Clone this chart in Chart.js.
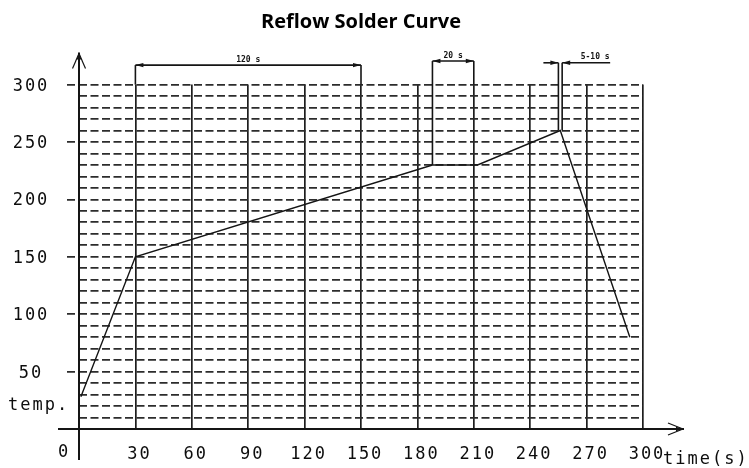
<!DOCTYPE html>
<html>
<head>
<meta charset="utf-8">
<title>Reflow Solder Curve</title>
<script src="https://cdn.jsdelivr.net/npm/chart.js@4.4.1/dist/chart.umd.min.js"></script>
<style>
    html, body { margin: 0; padding: 0; background: #fff; }
</style>
</head>
<body>
<canvas id="reflowChart" width="749" height="468"></canvas>
<script>
// Profile points (time in s, temperature)
const timeS = [1, 30, 188, 212, 256, 293];
const tempC = [28, 150, 230, 230, 260, 80];

// Axis tick labels
const timeTicks = [30, 60, 90, 120, 150, 180, 210, 240, 270, 300];
const tempTicks = [50, 100, 150, 200, 250, 300];

// Timing brackets drawn above the grid
const spanFrom = [30, 188, 255];
const spanTo = [150, 210, 257];
const spanTop = [317, 320.5, 319];
const spanFloorFrom = [300, 230, 260];
const spanFloorTo = [300, 300, 260];
const spanLabels = ['120 s', '20 s', '5-10 s'];

const ink = '#151515';
const gridInk = '#2c2c2c';

function segment(ctx, x1, y1, x2, y2) {
    ctx.beginPath();
    ctx.moveTo(x1, y1);
    ctx.lineTo(x2, y2);
    ctx.stroke();
}

// small filled arrow head, tip at (x, y); dir 1 = pointing right, -1 = left
function headH(ctx, x, y, dir) {
    ctx.beginPath();
    ctx.moveTo(x, y);
    ctx.lineTo(x - dir * 8, y - 2.2);
    ctx.lineTo(x - dir * 8, y + 2.2);
    ctx.closePath();
    ctx.fill();
}

/**
 * Axes with arrows, bracket marks and all texts
 */
const reflowDecor = {
    id: 'reflowDecor',
    afterDatasetsDraw(chart) {
        const { ctx, chartArea, scales: { x, y } } = chart;
        const x0 = x.getPixelForValue(0);
        const y0 = y.getPixelForValue(0);
        const xEnd = x.getPixelForValue(300);

        ctx.save();
        ctx.strokeStyle = ink;
        ctx.fillStyle = ink;
        ctx.lineWidth = 2;

        // y axis and arrow
        const yTip = chartArea.top - 32;
        segment(ctx, x0, y0 + 31, x0, yTip);
        ctx.lineWidth = 1.2;
        segment(ctx, x0 - 6.5, yTip + 16, x0, yTip + 1);
        segment(ctx, x0 + 6.5, yTip + 16, x0, yTip + 1);
        ctx.beginPath();
        ctx.moveTo(x0, yTip);
        ctx.lineTo(x0 - 2.5, yTip + 7);
        ctx.lineTo(x0 + 2.5, yTip + 7);
        ctx.closePath();
        ctx.fill();

        // x axis and arrow
        const xTip = xEnd + 41;
        ctx.lineWidth = 2;
        segment(ctx, x0 - 21, y0, xTip, y0);
        ctx.lineWidth = 1.2;
        segment(ctx, xTip - 16, y0 - 6, xTip - 1, y0);
        segment(ctx, xTip - 16, y0 + 6, xTip - 1, y0);
        headH(ctx, xTip, y0, 1);

        // brackets
        ctx.lineWidth = 1.6;
        ctx.font = 'bold 8px "DejaVu Sans Mono"';
        ctx.textBaseline = 'middle';
        ctx.textAlign = 'center';
        for (let i = 0; i < spanFrom.length; i++) {
            const xa = x.getPixelForValue(spanFrom[i]);
            const xb = x.getPixelForValue(spanTo[i]);
            const yt = y.getPixelForValue(spanTop[i]);
            segment(ctx, xa, y.getPixelForValue(spanFloorFrom[i]), xa, yt);
            segment(ctx, xb, y.getPixelForValue(spanFloorTo[i]), xb, yt);
            if (xb - xa > 10) {
                segment(ctx, xa, yt, xb, yt);
                headH(ctx, xa, yt, -1);
                headH(ctx, xb, yt, 1);
                ctx.fillText(spanLabels[i], (xa + xb) / 2, yt - 5);
            } else {
                segment(ctx, xa - 15, yt, xa, yt);
                segment(ctx, xb, yt, xb + 48, yt);
                headH(ctx, xa, yt, 1);
                headH(ctx, xb, yt, -1);
                ctx.fillText(spanLabels[i], xb + 33, yt - 6);
            }
        }

        // tick labels and axis names
        ctx.font = '17px "DejaVu Sans Mono"';
        ctx.letterSpacing = '2px';
        ctx.fillStyle = '#0d0d0d';
        ctx.textAlign = 'center';
        tempTicks.forEach(v => ctx.fillText(String(v), 31, y.getPixelForValue(v) + 1.5));
        timeTicks.forEach(v => ctx.fillText(String(v), x.getPixelForValue(v) + 4, y0 + 26));
        ctx.fillText('0', x0 - 15, y0 + 24);
        ctx.textAlign = 'left';
        ctx.fillText('temp.', 8, y0 - 23);
        ctx.fillText('time(s)', xEnd + 20, y0 + 31);
        ctx.restore();
    }
};

function initReflowChart() {
    const ctx = document.getElementById('reflowChart');

    new Chart(ctx, {
        type: 'line',
        data: {
            datasets: [{
                data: timeS.map((t, i) => ({ x: t, y: tempC[i] })),
                borderColor: ink,
                borderWidth: 1.4,
                pointRadius: 0,
                tension: 0,
                fill: false
            }]
        },
        options: {
            responsive: false,
            animation: false,
            layout: {
                padding: { left: 0, right: 106, top: 0, bottom: 0 }
            },
            plugins: {
                legend: { display: false },
                tooltip: { enabled: false },
                title: {
                    display: true,
                    text: 'Reflow Solder Curve',
                    fullSize: false,
                    align: 'center',
                    color: '#000',
                    font: { family: 'Open Sans', weight: 'bold', size: 20 },
                    lineHeight: 1.2,
                    padding: { top: 10, bottom: 50.6 }
                }
            },
            scales: {
                x: {
                    type: 'linear',
                    min: 0,
                    max: 300,
                    afterBuildTicks: s => {
                        s.ticks = [0, ...timeTicks].map(v => ({ value: v }));
                    },
                    ticks: { display: false },
                    grid: {
                        color: c => c.tick.value === 0 ? 'transparent' : '#1e1e1e',
                        lineWidth: 1.7,
                        drawTicks: false
                    },
                    border: { display: false },
                    afterFit: s => { s.height = 39; }
                },
                y: {
                    type: 'linear',
                    min: 0,
                    max: 300,
                    ticks: { display: false, stepSize: 10 },
                    grid: {
                        color: c => c.tick.value === 0 ? 'transparent' : gridInk,
                        lineWidth: 1.8,
                        drawTicks: true,
                        tickLength: 12,
                        tickWidth: 1.8,
                        tickColor: c => tempTicks.includes(c.tick.value) ? gridInk : 'transparent',
                        tickBorderDash: [8, 3.5]
                    },
                    border: { display: false, dash: [8, 3.5] },
                    afterFit: s => { s.width = 79; }
                }
            }
        },
        plugins: [reflowDecor]
    });
}

initReflowChart();
</script>
</body>
</html>
